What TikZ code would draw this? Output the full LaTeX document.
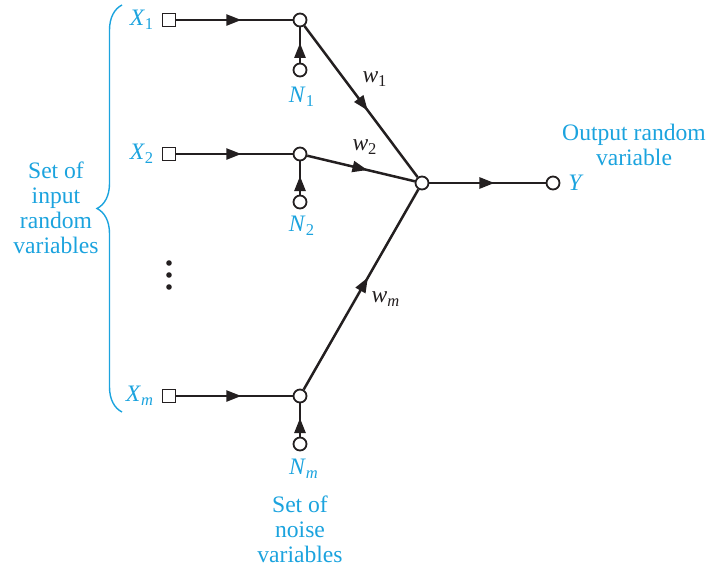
\documentclass[tikz,border=0pt]{standalone}
\usepackage{fontspec}
\setmainfont{Liberation Serif}
\usepackage{xcolor}
\usepackage{tikz}
\usetikzlibrary{arrows.meta,positioning,decorations.markings,decorations.pathreplacing}
\definecolor{NETcyan}{HTML}{1BA3DE}
\definecolor{NETblack}{HTML}{231F20}
\newcommand{\rvar}[2]{\textit{#1}\textsubscript{#2}}

\tikzset{
  junc/.style={circle, draw=NETblack, fill=white, line width=0.9pt, inner sep=0pt, minimum size=6.5pt},
  src/.style={rectangle, draw=NETblack, fill=white, line width=0.7pt, inner sep=0pt, minimum size=6.3pt},
  flow/.style={draw=NETblack, line width=1.25pt, postaction={decorate},
    decoration={markings, mark=at position 0.56 with {\arrow{Triangle[length=7.5pt,width=5.5pt]}}}},
  lab/.style={font=\fontsize{11.8}{12.6}\selectfont, text=NETcyan, align=center, inner sep=0pt},
  wlab/.style={font=\fontsize{11.8}{12.6}\selectfont, text=NETblack, inner sep=0pt}
}

\begin{document}
\begin{tikzpicture}[x=0.5pt, y=-0.5pt]
  \useasboundingbox (0,0) rectangle (706,568);

  % inputs, noise taps and junctions
  \node[src]  (x1) at (169,20) {};
  \node[junc] (c1) at (300,20) {};
  \node[junc] (n1) at (300,70) {};
  \node[src]  (x2) at (169,154) {};
  \node[junc] (c2) at (300,154) {};
  \node[junc] (n2) at (300,202) {};
  \node[src]  (xm) at (169,396) {};
  \node[junc] (cm) at (300,396) {};
  \node[junc] (nm) at (300,444) {};
  \node[junc] (sum) at (422,183) {};
  \node[junc] (out) at (553,183) {};

  \draw[flow] (x1) -- (c1);
  \draw[flow] (n1) -- (c1);
  \draw[flow] (x2) -- (c2);
  \draw[flow] (n2) -- (c2);
  \draw[flow] (xm) -- (cm);
  \draw[flow] (nm) -- (cm);
  \draw[flow] (c1) -- (sum);
  \draw[flow] (c2) -- (sum);
  \draw[flow] (cm) -- (sum);
  \draw[flow] (sum) -- (out);

  % labels
  \node[lab] (lx1) at (142,20) {\rvar{X}{1}};
  \node[lab] (lx2) at (142,154) {\rvar{X}{2}};
  \node[lab] (lxm) at (140,396) {\rvar{X}{\textit{m}}};
  \node[lab] (ln1) at (302,97) {\rvar{N}{1}};
  \node[lab] (ln2) at (302,226) {\rvar{N}{2}};
  \node[lab] (lnm) at (304,469) {\rvar{N}{\textit{m}}};
  \node[lab] (ly) at (576,183) {\textit{Y}};
  \node[wlab] (w1) at (375,79) {\rvar{w}{1}};
  \node[wlab] (w2) at (365,147) {\rvar{w}{2}};
  \node[wlab] (wm) at (386,299) {\rvar{w}{\textit{m}}};

  \node[lab] (inset) at (56,208) {Set of\\input\\random\\variables};
  \node[lab] (outset) at (634,145) {Output random\\variable};
  \node[lab] (noiseset) at (300,529) {Set of\\noise\\variables};

  % dots and brace
  \foreach \yy in {263,275,287}
    \fill[NETblack] (169,\yy) circle (1.4pt);
  \coordinate (btop) at (122,5);
  \coordinate (bbot) at (122,412);
  \draw[NETcyan, line width=0.7pt, decorate, decoration={brace, amplitude=12.5pt}]
    (bbot) -- (btop);
\end{tikzpicture}
\end{document}
